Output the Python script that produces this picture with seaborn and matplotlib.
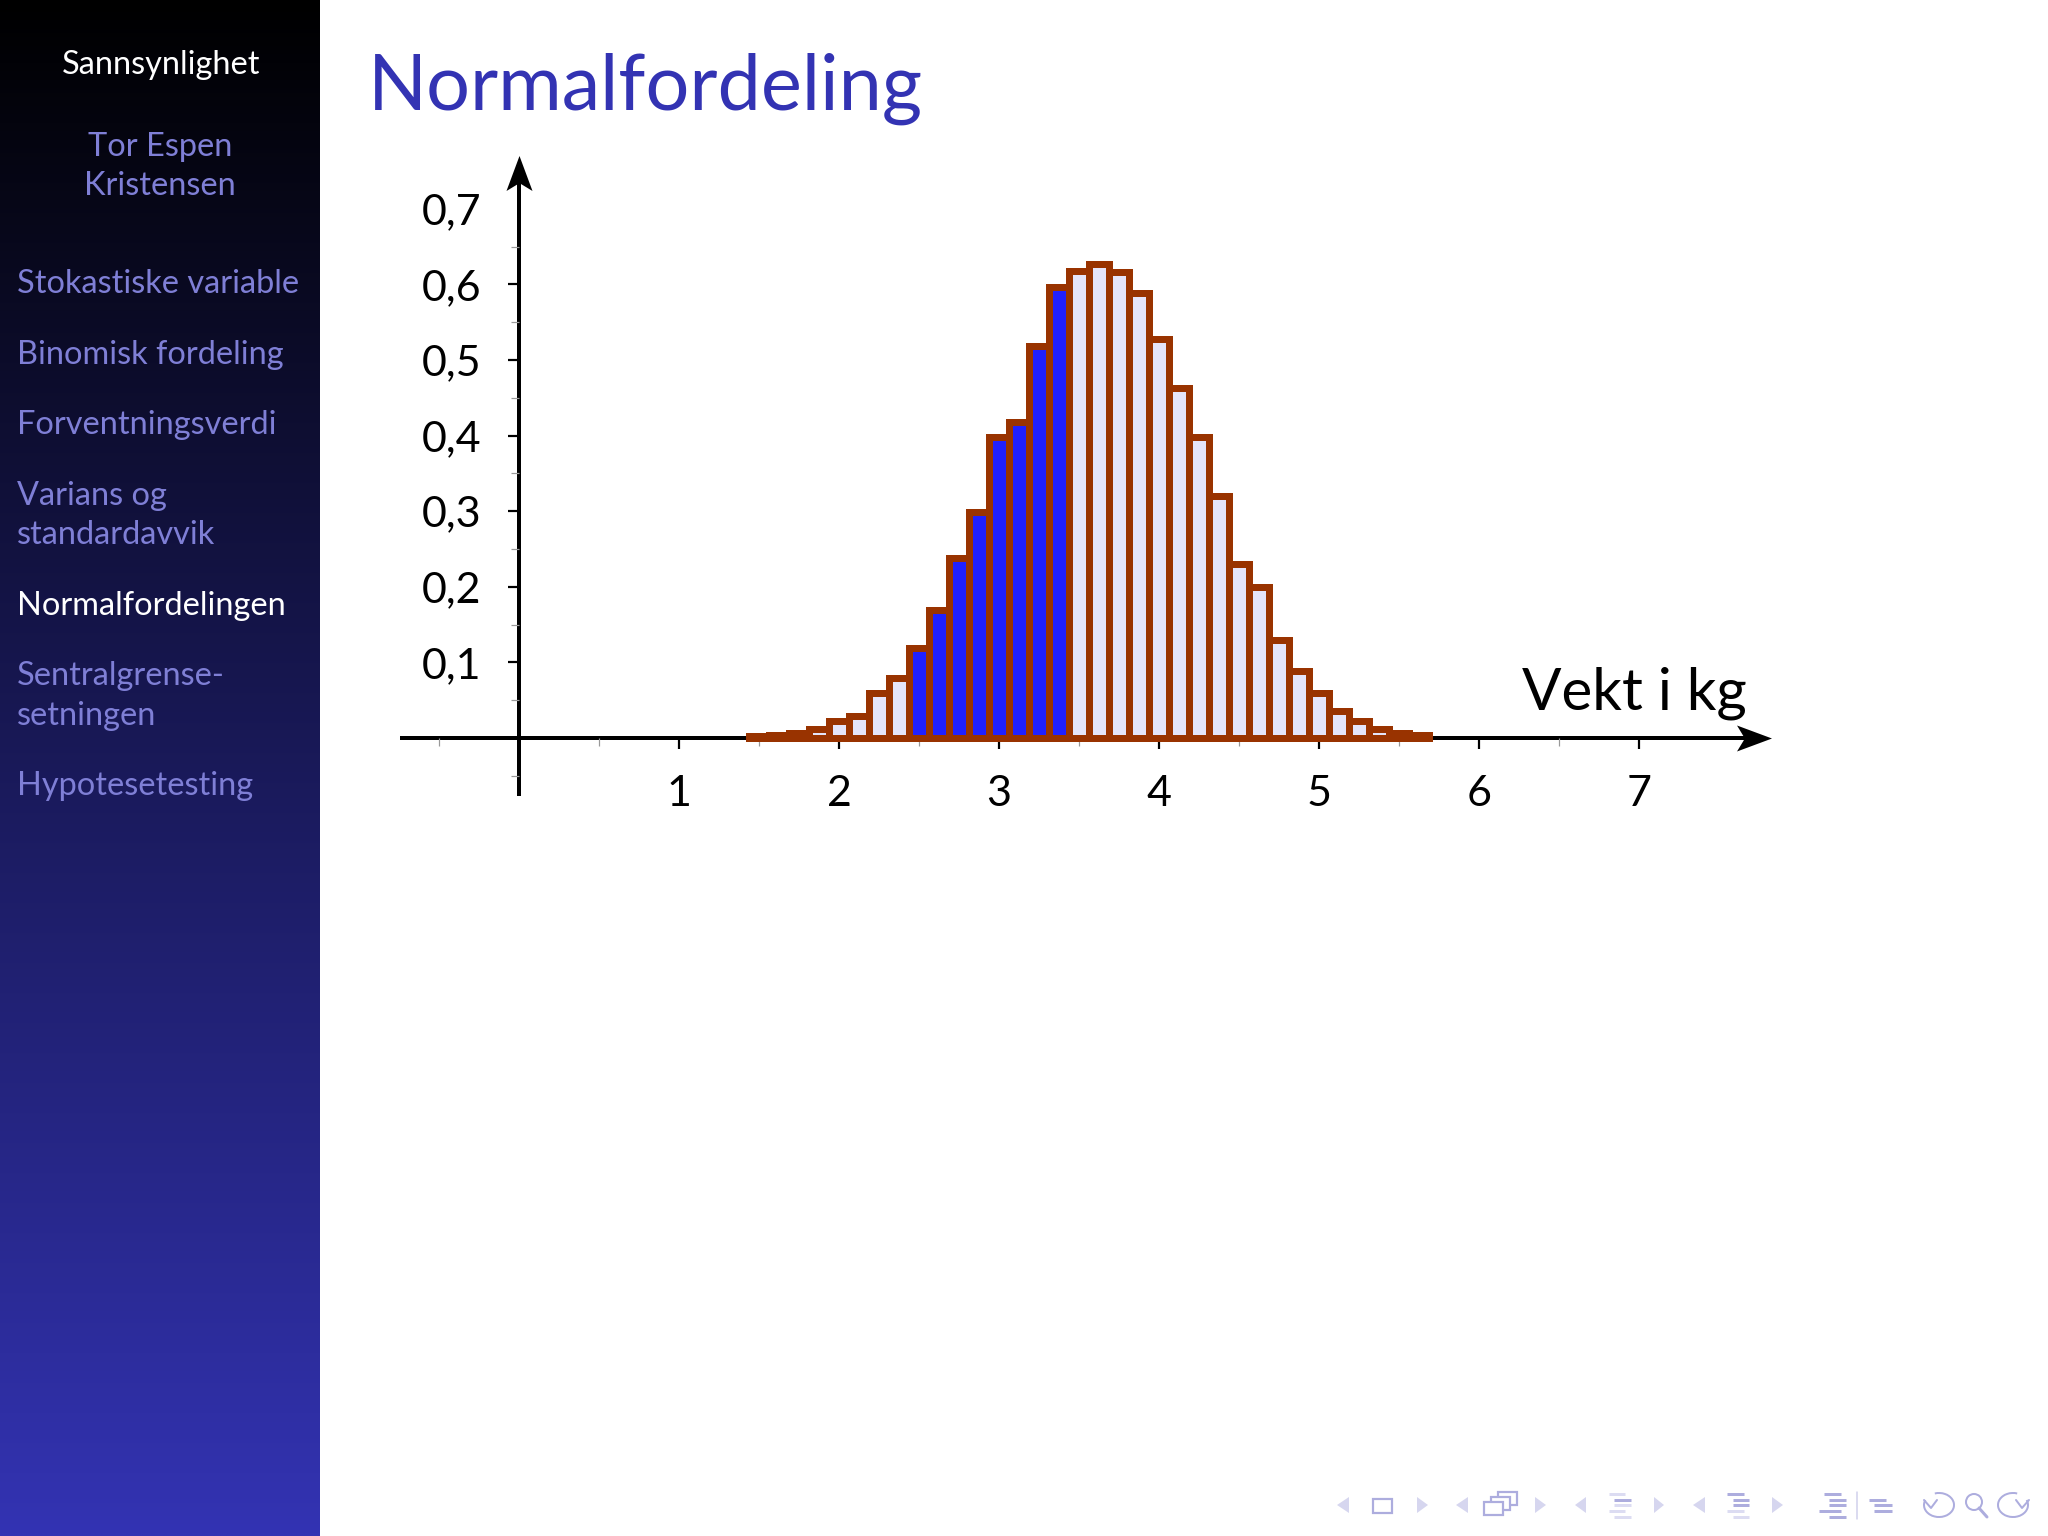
import numpy as np
import pandas as pd
import matplotlib
matplotlib.use('Agg')
import matplotlib.pyplot as plt
import seaborn as sns
from matplotlib.patches import Arc, Circle, Polygon, Rectangle
from matplotlib.path import Path

# bar edges and heights
bin_edges = [1.4375, 1.5625, 1.6875, 1.8125, 1.9375, 2.0625, 2.1875, 2.3125, 2.4375,
             2.5625, 2.6875, 2.8125, 2.9375, 3.0625, 3.1875, 3.3125, 3.4375, 3.5625,
             3.6875, 3.8125, 3.9375, 4.0625, 4.1875, 4.3125, 4.4375, 4.5625, 4.6875,
             4.8125, 4.9375, 5.0625, 5.1875, 5.3125, 5.4375, 5.5625, 5.6875]
densities = [0.002, 0.004, 0.0066, 0.012, 0.0225, 0.029, 0.059, 0.079, 0.119, 0.169,
             0.2385, 0.2985, 0.398, 0.418, 0.518, 0.597, 0.618, 0.627, 0.617, 0.588,
             0.528, 0.463, 0.398, 0.32, 0.23, 0.20, 0.13, 0.089, 0.059, 0.036, 0.022,
             0.0123, 0.007, 0.0035]
shaded_from = 2.4375
shaded_to = 3.4375

x_ticks = [1, 2, 3, 4, 5, 6, 7]
x_minor = [-0.5, 0.5, 1.5, 2.5, 3.5, 4.5, 5.5, 6.5]
y_ticks = [0.1, 0.2, 0.3, 0.4, 0.5, 0.6, 0.7]
y_labels = ['0,1', '0,2', '0,3', '0,4', '0,5', '0,6', '0,7']
y_minor = [-0.05, 0.05, 0.15, 0.25, 0.35, 0.45, 0.55, 0.65]

# sidebar text: label, x, baseline y, colour key
nav_items = [
    ('Sannsynlighet', 161, 74, 'on'), ('Tor Espen', 160, 156, 'off'), ('Kristensen', 160, 195, 'off'),
    ('Stokastiske variable', 17, 293, 'off'), ('Binomisk fordeling', 17, 364, 'off'),
    ('Forventningsverdi', 17, 434, 'off'), ('Varians og', 17, 505, 'off'),
    ('standardavvik', 17, 544, 'off'), ('Normalfordelingen', 17, 615, 'on'),
    ('Sentralgrense-', 17, 685, 'off'), ('setningen', 17, 725, 'off'), ('Hypotesetesting', 17, 795, 'off'),
]

sns.set_theme(style='white')
plt.rcParams['font.family'] = ['Lato', 'DejaVu Sans']

W, H = 2048, 1536
X0, Y0 = 519, 738   # pixel position of the origin
PX_X, PX_Y = 160, 756   # pixels per unit
px = 0.72   # one pixel in points at dpi 100

fig = plt.figure(figsize=(W / 100, H / 100), dpi=100, facecolor='white')
ax = fig.add_axes([0, 0, 1, 1])

centres = (np.array(bin_edges[:-1]) + np.array(bin_edges[1:])) / 2
df = pd.DataFrame({'centre': centres, 'density': densities})
df['shaded'] = (df['centre'] > shaded_from) & (df['centre'] < shaded_to)

sns.histplot(data=df, x='centre', weights='density', hue='shaded', bins=bin_edges,
             palette={True: '#2020ff', False: '#e5e5fa'}, multiple='layer', alpha=1,
             edgecolor='#993300', linewidth=7 * px, legend=False, ax=ax)

ax.set_xlim(-X0 / PX_X, (W - X0) / PX_X)
ax.set_ylim(-(H - Y0) / PX_Y, Y0 / PX_Y)
ax.set_xlabel('')
ax.set_ylabel('')
ax.patch.set_alpha(0)
ax.set_axisbelow(True)

for side in ['top', 'right']:
    ax.spines[side].set_visible(False)
for side in ['left', 'bottom']:
    ax.spines[side].set_position('zero')
    ax.spines[side].set_color('black')
    ax.spines[side].set_linewidth(4 * px)
    ax.spines[side].set_zorder(0.5)
ax.spines['bottom'].set_bounds(-117 / PX_X, 1750 / PX_X - X0 / PX_X)
ax.spines['left'].set_bounds(-56 / PX_Y, 0.74)

ax.set_xticks(x_ticks)
ax.set_xticklabels([str(v) for v in x_ticks])
ax.set_xticks(x_minor, minor=True)
ax.set_yticks(y_ticks)
ax.set_yticklabels(y_labels)
ax.set_yticks(y_minor, minor=True)
ax.tick_params(axis='both', which='major', length=11 * px, width=2.2 * px, color='black',
               labelsize=31, labelcolor='black', bottom=True, left=True)
ax.tick_params(axis='x', which='major', pad=18.5)
ax.tick_params(axis='y', which='major', pad=19.5)
ax.tick_params(axis='both', which='minor', length=8 * px, width=1.2 * px, color='#999999',
               bottom=True, left=True)
ax.yaxis.get_major_ticks()[-1].tick1line.set_visible(False)

# arrow heads on the axes
stealth_x = Path([(1, 0), (-1, 0.743), (-0.55, 0), (-1, -0.743), (1, 0)],
                 [Path.MOVETO, Path.LINETO, Path.LINETO, Path.LINETO, Path.CLOSEPOLY])
stealth_y = Path([(0, 1), (0.743, -1), (0, -0.55), (-0.743, -1), (0, 1)],
                 [Path.MOVETO, Path.LINETO, Path.LINETO, Path.LINETO, Path.CLOSEPOLY])
ax.plot([(1771 - 17.5 - X0) / PX_X], [0], marker=stealth_x, ms=35 * px, color='black', mew=0, clip_on=False)
ax.plot([0], [(Y0 - 155 - 17.5) / PX_Y], marker=stealth_y, ms=35 * px, color='black', mew=0, clip_on=False)

ax.text((1747 - X0) / PX_X, (Y0 - 709) / PX_Y, 'Vekt i kg', fontsize=42, color='black',
        ha='right', va='baseline')

# overlay in pixel coordinates for the slide furniture
over = fig.add_axes([0, 0, 1, 1], zorder=5)
over.set_xlim(0, W)
over.set_ylim(H, 0)
over.axis('off')
over.patch.set_alpha(0)

gradient = np.zeros((256, 1, 3))
gradient[:, 0, 0] = np.linspace(0, 0x33, 256) / 255
gradient[:, 0, 1] = np.linspace(0, 0x33, 256) / 255
gradient[:, 0, 2] = np.linspace(0, 0xb3, 256) / 255
over.imshow(gradient, extent=[0, 320, H, 0], aspect='auto', interpolation='bilinear', zorder=1)
over.set_xlim(0, W)
over.set_ylim(H, 0)

for label, x, y, state in nav_items:
    over.text(x, y, label, fontsize=23.4, color='white' if state == 'on' else '#7f7fd6',
              ha='center' if x > 100 else 'left', va='baseline', zorder=2)

over.text(368, 110, 'Normalfordeling', fontsize=55.7, color='#3333b3', ha='left', va='baseline')

# beamer navigation symbols
TRI = '#d6d6ef'
ICON = '#adadde'
PALE = '#dcdcf2'
for left, right in [(1337, 1349), (1456, 1468), (1575, 1586), (1693, 1705)]:
    over.add_patch(Polygon([(right, 1497), (left, 1505), (right, 1513)], fc=TRI, ec='none'))
for left, right in [(1417, 1428), (1535, 1546), (1654, 1664), (1772, 1783)]:
    over.add_patch(Polygon([(left, 1497), (right, 1505), (left, 1513)], fc=TRI, ec='none'))
over.add_patch(Rectangle((1373, 1499), 19, 14, fc='white', ec=ICON, lw=2.2 * px))
for dx, dy in [(14, -10), (7, -5), (0, 0)]:
    over.add_patch(Rectangle((1484 + dx, 1502 + dy), 19, 13, fc='white', ec=ICON, lw=2.2 * px))

rows_y = [1494, 1500, 1505, 1511, 1517]
rule_groups = [
    [(1609, 1625, PALE), (1614, 1631, ICON), (1614, 1631, PALE), (1609, 1625, PALE), (1614, 1631, PALE)],
    [(1727, 1744, ICON), (1733, 1749, ICON), (1733, 1749, ICON), (1727, 1744, PALE), (1733, 1749, PALE)],
    [(1824, 1841, ICON), (1829, 1846, ICON), (1829, 1846, ICON), (1819, 1841, ICON), (1829, 1846, ICON)],
]
for group in rule_groups:
    for y, (a, b, c) in zip(rows_y, group):
        over.plot([a, b], [y, y], color=c, lw=3 * px, solid_capstyle='butt')
for y, (a, b) in zip(rows_y[1:4], [(1869, 1886), (1874, 1892), (1874, 1892)]):
    over.plot([a, b], [y, y], color=ICON, lw=3 * px, solid_capstyle='butt')
over.plot([1857, 1857], [1492, 1519], color='#d0d0ec', lw=1.5 * px)

over.add_patch(Arc((1939, 1505), 30, 24, theta1=-110, theta2=200, color=ICON, lw=2 * px))
over.plot([1924, 1931, 1937], [1500, 1508, 1500], color=ICON, lw=2 * px)
over.add_patch(Circle((1974, 1502), 8, fc='none', ec=ICON, lw=2 * px))
over.plot([1979, 1987], [1508, 1517], color=ICON, lw=3 * px)
over.add_patch(Arc((2013, 1505), 30, 24, theta1=-20, theta2=290, color=ICON, lw=2 * px))
over.plot([2016, 2022, 2029], [1500, 1508, 1500], color=ICON, lw=2 * px)

fig.savefig('out.png', dpi=100)
